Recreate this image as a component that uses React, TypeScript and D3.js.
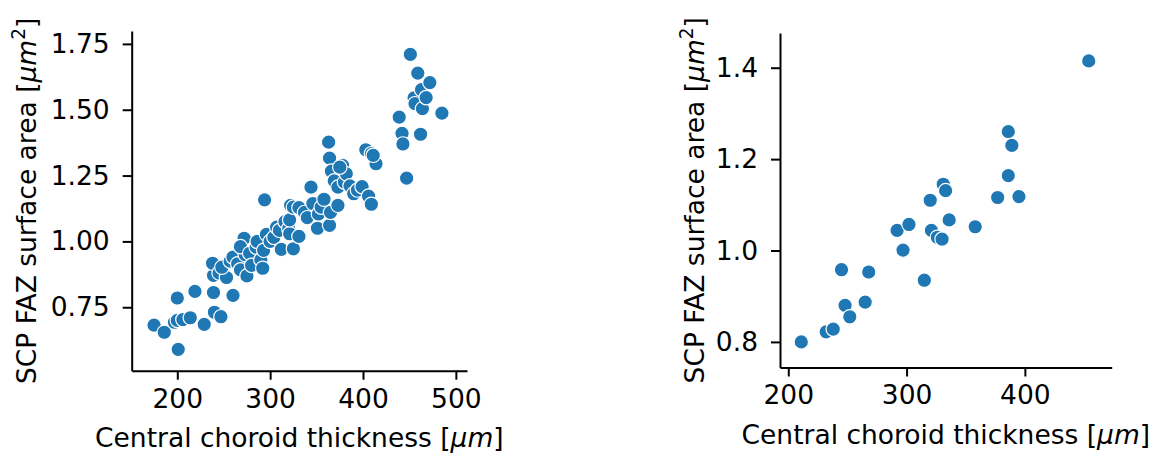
import React, { useEffect, useRef } from "react";
import * as d3 from "d3";

// Left panel: all eyes
const leftThickness = [
  175, 186, 201, 200, 197, 200, 206, 214, 219, 229, 240, 247, 239, 260, 239, 238, 245, 253, 248, 257,
  260, 265, 268, 273, 275, 272, 268, 278, 280, 285, 286, 290, 292, 293, 296, 294, 300, 304, 307, 310,
  312, 316, 320, 321, 321, 322, 325, 325, 331, 331, 337, 340, 344, 346, 351, 352, 355, 358, 363, 364,
  364, 365, 366, 369, 373, 373, 378, 380, 382, 386, 390, 394, 399, 403, 406, 409, 409, 414, 439, 442,
  443, 447, 451, 455, 456, 459, 462, 463, 464, 468, 472, 485, 411, 375,
];
const leftArea = [
  0.682, 0.655, 0.59, 0.785, 0.693, 0.7, 0.703, 0.71, 0.81, 0.685, 0.731, 0.714, 0.806, 0.795, 0.871, 0.917, 0.88, 0.863, 0.902, 0.925,
  0.94, 0.915, 0.892, 0.95, 0.869, 1.012, 0.98, 0.955, 0.909, 0.978, 1.0, 0.93, 0.898, 0.966, 1.027, 1.158, 1.0, 1.015, 1.054, 1.042,
  0.97, 1.075, 1.048, 1.029, 1.082, 1.137, 0.972, 1.13, 1.019, 1.128, 1.11, 1.09, 1.206, 1.144, 1.05, 1.104, 1.13, 1.16, 1.377, 1.316,
  1.061, 1.11, 1.267, 1.23, 1.137, 1.206, 1.289, 1.225, 1.257, 1.211, 1.181, 1.195, 1.208, 1.348, 1.172, 1.141, 1.333, 1.295, 1.472, 1.41,
  1.37, 1.24, 1.71, 1.545, 1.523, 1.639, 1.407, 1.576, 1.504, 1.546, 1.603, 1.487, 1.327, 1.282,
];

// Right panel
const rightThickness = [
  211, 232, 238, 245, 248, 252, 265, 268, 292, 297, 302, 315, 320, 321, 326, 330, 331, 333, 336, 358,
  377, 386, 386, 389, 395, 454,
];
const rightArea = [
  0.8, 0.822, 0.828, 0.958, 0.88, 0.855, 0.887, 0.953, 1.044, 1.001, 1.057, 0.935, 1.11, 1.044, 1.029, 1.025, 1.145, 1.131, 1.067, 1.052,
  1.116, 1.164, 1.26, 1.23, 1.118, 1.415,
];

const leftXTicks = [200, 300, 400, 500];
const leftYTicks = [0.75, 1.0, 1.25, 1.5, 1.75];
const rightXTicks = [200, 300, 400];
const rightYTicks = [0.8, 1.0, 1.2, 1.4];

const FONT = "DejaVu Sans";
const FS = 26.5;

type PanelProps = {
  xs: number[];
  ys: number[];
  xDomain: [number, number];
  yDomain: [number, number];
  xRange: [number, number];
  yRange: [number, number];
  xTicks: number[];
  yTicks: number[];
  yFmt: string;
  yLabelX: number;
  xLabelY: number;
};

function Panel(p: PanelProps) {
  const xRef = useRef<SVGGElement>(null);
  const yRef = useRef<SVGGElement>(null);
  const x = d3.scaleLinear().domain(p.xDomain).range(p.xRange);
  const y = d3.scaleLinear().domain(p.yDomain).range(p.yRange);

  useEffect(() => {
    const gx = d3.select(xRef.current);
    gx.selectAll("*").remove();
    gx.call(
      d3.axisBottom(x).tickValues(p.xTicks).tickSize(9).tickSizeOuter(0).tickPadding(9).tickFormat(d3.format("d"))
    );
    const gy = d3.select(yRef.current);
    gy.selectAll("*").remove();
    gy.call(
      d3.axisLeft(y).tickValues(p.yTicks).tickSize(9).tickSizeOuter(0).tickPadding(13).tickFormat(d3.format(p.yFmt))
    );
    [gx, gy].forEach((g) => {
      g.attr("font-size", FS).attr("font-family", FONT);
      g.selectAll("path,line").attr("stroke", "#000").attr("stroke-width", 2);
      g.selectAll("text").attr("fill", "#000");
    });
  });

  const cx = (p.xRange[0] + p.xRange[1]) / 2;
  const cy = (p.yRange[0] + p.yRange[1]) / 2;

  return (
    <g>
      {p.xs.map((v, i) => (
        <circle key={i} cx={x(v)} cy={y(p.ys[i])} r={7.2} fill="#1f77b4" stroke="#fff" strokeWidth={1.2} />
      ))}
      <g ref={xRef} transform={`translate(0,${p.yRange[0]})`} />
      <g ref={yRef} transform={`translate(${p.xRange[0]},0)`} />
      <text x={cx} y={p.xLabelY} textAnchor="middle" fontFamily={FONT} fontSize={FS}>
        Central choroid thickness [<tspan fontStyle="italic">μm</tspan>]
      </text>
      <text
        transform={`translate(${p.yLabelX},${cy}) rotate(-90)`}
        textAnchor="middle"
        fontFamily={FONT}
        fontSize={FS}
      >
        SCP FAZ surface area [<tspan fontStyle="italic">μm</tspan>
        <tspan fontSize={FS * 0.7} dy={-11}>2</tspan>
        <tspan dy={11}>]</tspan>
      </text>
    </g>
  );
}

export default function App() {
  return (
    <svg
      width={1155}
      height={454}
      style={{ position: "absolute", left: 0, top: 0, background: "#fff" }}
    >
      <Panel
        xs={leftThickness}
        ys={leftArea}
        xDomain={[150.9, 512]}
        yDomain={[0.509, 1.799]}
        xRange={[131.7, 467]}
        yRange={[370.7, 31]}
        xTicks={leftXTicks}
        yTicks={leftYTicks}
        yFmt=".2f"
        yLabelX={36}
        xLabelY={447}
      />
      <Panel
        xs={rightThickness}
        ys={rightArea}
        xDomain={[193, 473.4]}
        yDomain={[0.744, 1.476]}
        xRange={[780, 1111.7]}
        yRange={[367.5, 33]}
        xTicks={rightXTicks}
        yTicks={rightYTicks}
        yFmt=".1f"
        yLabelX={704}
        xLabelY={444}
      />
    </svg>
  );
}
